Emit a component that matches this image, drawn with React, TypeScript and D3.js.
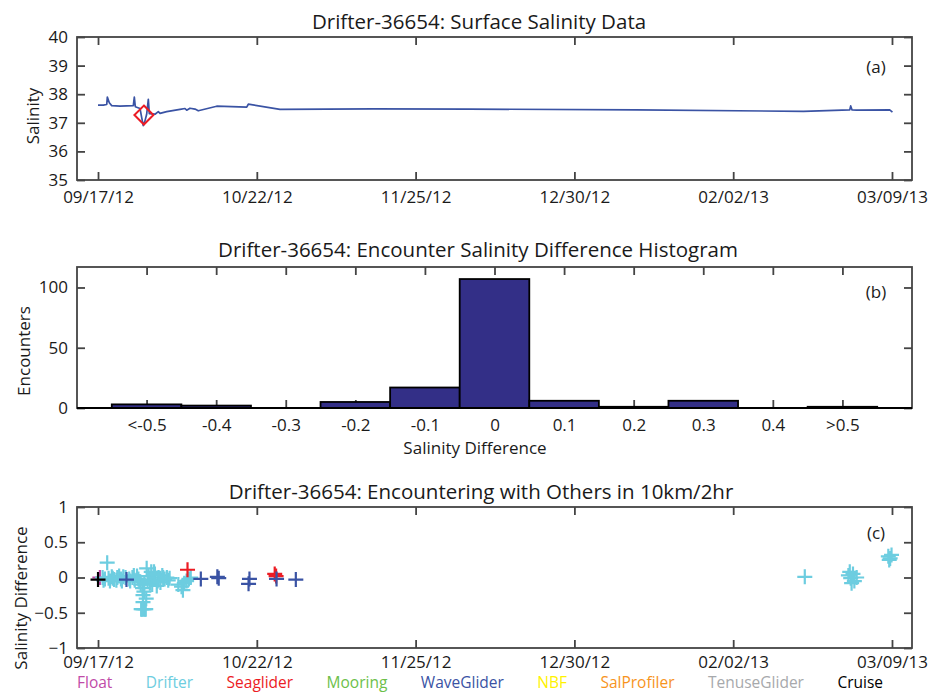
import React, { useEffect, useRef } from 'react';
import * as d3 from 'd3';

const width = 941;
const height = 693;
const FONT = '"Open Sans", sans-serif';
const AXIS = '#444';
const INK = '#1a1a1a';

// time axis: days since 09/17/12
const startDate = new Date(2012, 8, 17);
const dayMs = 86400000;
const xDomainDays = [-4.58, 177.36];
const lastTickDay = 173;
const dateTickLabels = ['09/17/12', '10/22/12', '11/25/12', '12/30/12', '02/02/13', '03/09/13'];

// (a) surface salinity
const salDays = [0, 1.15, 1.9, 2.03, 2.46, 2.98, 4.79, 7.69, 7.91, 8.13, 9.15, 9.5, 9.85, 10.2, 10.6, 10.96, 11.18,
  12.42, 13.14, 13.51, 14.97, 17.86, 18.95, 19.32, 20.04, 21.13, 21.85, 25.86, 32.4, 32.75, 39.65,
  60, 81, 117.4, 153.7, 163.8, 164.0, 164.3, 165.3, 172.5, 173.1];
const salValues = [37.62, 37.62, 37.64, 37.9, 37.7, 37.6, 37.58, 37.6, 37.9, 37.56, 37.5, 37.2, 36.9, 37.05, 37.3, 37.82, 37.32,
  37.3, 37.39, 37.33, 37.39, 37.47, 37.5, 37.44, 37.51, 37.48, 37.42, 37.58, 37.55, 37.65, 37.47,
  37.49, 37.48, 37.45, 37.4, 37.45, 37.59, 37.45, 37.44, 37.45, 37.37];
const encounterDay = 10.0;
const encounterSal = 37.27;

// (b) histogram
const binCenters = [-0.5, -0.4, -0.3, -0.2, -0.1, 0, 0.1, 0.2, 0.3, 0.4, 0.5];
const binLabels = ['<-0.5', '-0.4', '-0.3', '-0.2', '-0.1', '0', '0.1', '0.2', '0.3', '0.4', '>0.5'];
const binCounts = [3, 2, 0, 5, 17, 107, 6, 1, 6, 0, 1];

// (c) encounters by platform
const platforms = ['Float', 'Drifter', 'Seaglider', 'Mooring', 'WaveGlider', 'NBF', 'SalProfiler', 'TenuseGlider', 'Cruise'];
const platformColors = ['#bf4ba8', '#6dcde0', '#ec1c24', '#6cc04a', '#3a53a4', '#fff200', '#f7941d', '#a7a9ac', '#000000'];
const floatPts = [[0.4, 0.0]];
const drifterPts = [
  [1.0, 0.0], [1.2, -0.04], [1.5, -0.02], [2.0, 0.21], [2.3, -0.01], [2.6, -0.05], [3.0, 0.01], [3.2, -0.01],
  [3.5, -0.03], [4.0, -0.04], [4.2, 0.0], [4.6, 0.02], [5.0, -0.02], [5.2, -0.05], [5.5, 0.01], [6.0, 0.0],
  [6.8, -0.02], [7.0, -0.05], [7.5, 0.0], [7.8, 0.03], [8.0, -0.04], [8.5, 0.02], [8.8, -0.02], [9.0, -0.06],
  [9.3, -0.1], [9.4, -0.45], [9.6, -0.45], [9.7, -0.15], [9.8, -0.25], [9.8, -0.35], [9.9, -0.45], [10.0, -0.2],
  [10.1, -0.08], [10.2, -0.45], [10.4, -0.45], [10.5, -0.3], [10.6, 0.13], [10.8, -0.05], [11.0, 0.02],
  [11.3, -0.08], [11.6, 0.08], [11.8, -0.1], [12.0, -0.03], [12.2, 0.08], [12.4, 0.05], [12.8, -0.12],
  [13.0, -0.05], [13.2, 0.0], [13.6, -0.07], [14.0, 0.03], [14.2, 0.0], [14.5, -0.02], [15.0, 0.0],
  [15.3, -0.04], [15.6, -0.01],
  [17.5, -0.1], [18.2, -0.13], [18.5, -0.18], [18.8, -0.08], [19.3, -0.05], [19.8, -0.02], [20.2, 0.0],
  [154.0, 0.01], [163.5, 0.03], [163.8, 0.08], [164.0, -0.01], [164.2, -0.08], [164.5, 0.05], [164.8, -0.05],
  [165.3, 0.0], [172.2, 0.3], [172.4, 0.25], [172.6, 0.27], [172.9, 0.32],
];
const seagliderPts = [[19.5, 0.11], [38.5, 0.05], [38.8, 0.02]];
const mooringPts: number[][] = [];
const waveGliderPts = [[6.2, -0.03], [22.4, -0.02], [26.0, 0.01], [26.3, -0.01], [32.8, -0.09], [33.0, -0.02], [38.9, -0.02], [43.1, -0.03]];
const nbfPts: number[][] = [];
const salProfilerPts: number[][] = [];
const tenusePts: number[][] = [];
const cruisePts = [[0.0, -0.03]];
const platformPts = [floatPts, drifterPts, seagliderPts, mooringPts, waveGliderPts, nbfPts, salProfilerPts, tenusePts, cruisePts];

const plotLeft = 77;
const plotRight = 912;
const panels = {
  a: { top: 37, bottom: 180 },
  b: { top: 267, bottom: 408 },
  c: { top: 507, bottom: 648 },
};
const tickLen = 8;

const toDate = (d: number) => new Date(startDate.getTime() + d * dayMs);

function frame(g: any, x: any, y: any, xTicks: any[], xFmt: any, yTicks: number[], yFmt: any, top: number, bottom: number, pad = 11) {
  g.append('rect')
    .attr('x', plotLeft).attr('y', top)
    .attr('width', plotRight - plotLeft).attr('height', bottom - top)
    .attr('fill', 'none').attr('stroke', AXIS).attr('stroke-width', 1.8);

  const style = (sel: any) => {
    sel.select('.domain').remove();
    sel.selectAll('line').attr('stroke', AXIS).attr('stroke-width', 1.8);
    sel.selectAll('text').attr('fill', INK).style('font-family', FONT).style('font-size', '17px');
  };

  g.append('g').attr('transform', `translate(0,${bottom})`)
    .call(d3.axisBottom(x).tickValues(xTicks).tickFormat(xFmt).tickSize(-tickLen).tickPadding(pad))
    .call(style);
  g.append('g').attr('transform', `translate(0,${top})`)
    .call(d3.axisTop(x).tickValues(xTicks).tickFormat(() => '').tickSize(-tickLen))
    .call(style);
  g.append('g').attr('transform', `translate(${plotLeft},0)`)
    .call(d3.axisLeft(y).tickValues(yTicks).tickFormat(yFmt).tickSize(-tickLen).tickPadding(9))
    .call(style);
  g.append('g').attr('transform', `translate(${plotRight},0)`)
    .call(d3.axisRight(y).tickValues(yTicks).tickFormat(() => '').tickSize(-tickLen))
    .call(style);
}

function label(g: any, text: string, x: number, y: number, size: number, rotate = false, anchor = 'middle') {
  g.append('text')
    .attr('transform', `translate(${x},${y})${rotate ? ' rotate(-90)' : ''}`)
    .attr('text-anchor', anchor)
    .attr('fill', INK)
    .style('font-family', FONT)
    .style('font-size', `${size}px`)
    .text(text);
}

export default function App() {
  const svgRef = useRef<SVGSVGElement>(null);

  useEffect(() => {
    const svg = d3.select(svgRef.current);
    svg.selectAll('*').remove();

    const x = d3.scaleTime().domain(xDomainDays.map(toDate)).range([plotLeft, plotRight]);
    const dateTicks = d3.range(dateTickLabels.length).map(i => toDate(i * lastTickDay / (dateTickLabels.length - 1)));
    const dateFmt = (_: any, i: number) => dateTickLabels[i];

    // (a)
    const ga = svg.append('g');
    const ya = d3.scaleLinear().domain([35, 40]).range([panels.a.bottom, panels.a.top]);
    frame(ga, x, ya, dateTicks, dateFmt, d3.range(35, 41), d3.format('d'), panels.a.top, panels.a.bottom);
    const line = d3.line<number>().x((_, i) => x(toDate(salDays[i]))).y(v => ya(v));
    ga.append('path').datum(salValues).attr('d', line)
      .attr('fill', 'none').attr('stroke', '#3a53a4').attr('stroke-width', 1.7).attr('stroke-linejoin', 'round');
    const ex = x(toDate(encounterDay));
    const ey = ya(encounterSal);
    ga.append('path')
      .attr('d', `M${ex},${ey - 9.5}L${ex + 9.5},${ey}L${ex},${ey + 9.5}L${ex - 9.5},${ey}Z`)
      .attr('fill', 'none').attr('stroke', '#ec1c24').attr('stroke-width', 2);
    label(ga, 'Drifter-36654: Surface Salinity Data', 479, 29, 20.5);
    label(ga, 'Salinity', 39, 116, 17, true);
    label(ga, '(a)', 876, 73, 17);

    // (b)
    const gb = svg.append('g');
    const xb = d3.scaleLinear().domain([-0.6, 0.6]).range([plotLeft, plotRight]);
    const yb = d3.scaleLinear().domain([0, 117]).range([panels.b.bottom, panels.b.top]);
    frame(gb, xb, yb, binCenters, (_: any, i: number) => binLabels[i], [0, 50, 100], d3.format('d'), panels.b.top, panels.b.bottom);
    gb.append('g').selectAll('rect').data(binCenters).join('rect')
      .attr('x', d => xb(d - 0.05))
      .attr('width', d => xb(d + 0.05) - xb(d - 0.05))
      .attr('y', (_, i) => yb(binCounts[i]))
      .attr('height', (_, i) => yb(0) - yb(binCounts[i]))
      .attr('fill', '#332f87').attr('stroke', '#000').attr('stroke-width', 1.8);
    gb.append('line').attr('x1', plotLeft).attr('x2', plotRight)
      .attr('y1', yb(0)).attr('y2', yb(0)).attr('stroke', '#000').attr('stroke-width', 2);
    label(gb, 'Drifter-36654: Encounter Salinity Difference Histogram', 478, 257, 20.5);
    label(gb, 'Encounters', 30, 351, 17, true);
    label(gb, 'Salinity Difference', 475, 454, 17);
    label(gb, '(b)', 876, 298, 17);

    // (c)
    const gc = svg.append('g');
    const yc = d3.scaleLinear().domain([-1, 1]).range([panels.c.bottom, panels.c.top]);
    frame(gc, x, yc, dateTicks, dateFmt, [-1, -0.5, 0, 0.5, 1], d3.format(''), panels.c.top, panels.c.bottom, 8);
    platformPts.forEach((pts, k) => {
      gc.append('g').selectAll('path').data(pts).join('path')
        .attr('transform', d => `translate(${x(toDate(d[0]))},${yc(d[1])})`)
        .attr('d', 'M-7.5,0H7.5M0,-7.5V7.5')
        .attr('stroke', platformColors[k]).attr('stroke-width', 2.2).attr('fill', 'none');
    });
    label(gc, 'Drifter-36654: Encountering with Others in 10km/2hr', 481, 499, 20.5);
    label(gc, 'Salinity Difference', 27, 598, 17, true);
    label(gc, '(c)', 876, 539, 17);

    // legend, spread from the left to the right end
    const leg = gc.append('g');
    const texts = leg.selectAll('text').data(platforms).join('text')
      .attr('y', 688)
      .attr('fill', (_, i) => platformColors[i])
      .style('font-family', FONT).style('font-size', '15.5px')
      .text(d => d);
    const widths = texts.nodes().map((n: any) => n.getComputedTextLength());
    const gap = (883 - plotLeft - d3.sum(widths)) / (platforms.length - 1);
    let cx = plotLeft;
    texts.attr('x', (_, i) => {
      const v = cx;
      cx += widths[i] + gap;
      return v;
    });
  }, []);

  return (
    <svg ref={svgRef} width={width} height={height} viewBox={`0 0 ${width} ${height}`}
      style={{ position: 'absolute', left: 0, top: 0, background: '#fff' }} />
  );
}
